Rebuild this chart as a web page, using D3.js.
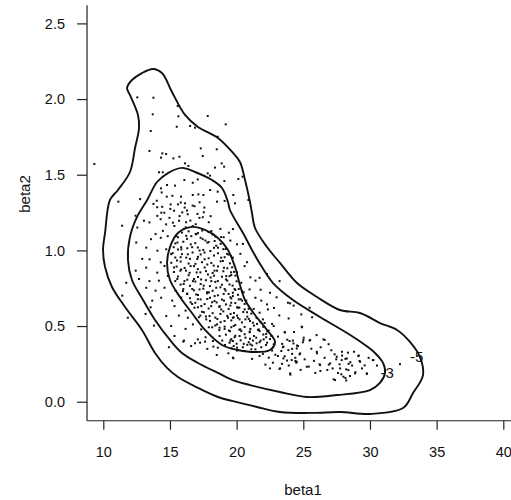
<!DOCTYPE html>
<html>
<head>
<meta charset="utf-8">
<script src="https://cdn.jsdelivr.net/npm/d3@7"></script>
<style>
  body { margin: 0; background: #fff; }
  text { font-family: "Liberation Sans", Arial, sans-serif; fill: #111; }
</style>
</head>
<body>
<div id="chart"></div>
<script>
var svgWidth = 511;
var svgHeight = 500;

var xTicks = [10, 15, 20, 25, 30, 35, 40];
var yTicks = [0, 0.5, 1.0, 1.5, 2.0, 2.5];
var xTitle = "beta1";
var yTitle = "beta2";

// contour levels, outer to inner: [beta1, beta2]
var contourOuter = [[13.73,2.199],[14.40,2.172],[15.15,2.047],[16.13,1.895],[17.10,1.816],[18.60,1.743],[19.73,1.644],[20.25,1.584],[20.63,1.465],[21.00,1.320],[21.15,1.247],[21.38,1.148],[22.28,1.022],[23.25,0.917],[24.53,0.784],[26.03,0.692],[27.75,0.606],[29.25,0.586],[30.75,0.520],[32.03,0.474],[33.00,0.395],[33.75,0.295],[33.98,0.176],[33.23,0.057],[32.48,-0.042],[30.00,-0.081],[27.75,-0.068],[25.73,-0.074],[23.25,-0.068],[21.53,-0.035],[19.65,0.005],[18.60,0.031],[17.10,0.091],[15.60,0.163],[14.78,0.223],[13.88,0.322],[12.90,0.474],[11.63,0.626],[10.65,0.758],[10.13,0.890],[9.98,1.003],[10.13,1.115],[10.50,1.333],[11.10,1.399],[12.00,1.518],[12.38,1.677],[12.68,1.809],[12.60,1.895],[12.00,2.027],[11.78,2.073],[12.15,2.126],[12.90,2.172]];
var contourMiddle = [[13.29,1.333],[14.03,1.452],[14.85,1.511],[15.90,1.545],[16.88,1.518],[18.15,1.465],[18.90,1.412],[19.35,1.320],[19.50,1.267],[20.48,1.115],[21.15,1.003],[21.90,0.890],[22.73,0.784],[24.23,0.672],[26.25,0.560],[28.28,0.454],[29.63,0.375],[30.38,0.322],[30.98,0.256],[31.13,0.190],[30.75,0.124],[30.00,0.077],[27.53,0.044],[25.28,0.031],[23.25,0.064],[21.00,0.110],[19.88,0.137],[18.60,0.190],[17.10,0.256],[15.90,0.322],[15.00,0.408],[13.88,0.540],[12.98,0.672],[12.15,0.804],[11.85,0.937],[12.00,1.089],[12.53,1.221]];
var contourInner = [[16.65,1.155],[17.63,1.135],[18.60,1.082],[19.35,1.003],[19.88,0.890],[20.25,0.771],[20.63,0.672],[21.38,0.573],[22.28,0.474],[22.88,0.395],[22.50,0.342],[21.38,0.328],[20.10,0.342],[18.90,0.375],[17.63,0.474],[16.65,0.586],[15.75,0.692],[15.00,0.804],[14.78,0.917],[15.00,1.022],[15.60,1.115]];

var contourLabels = ["-5", "-3"];
var labelPos = [[33.0, 0.264], [30.79, 0.157]];

// draws, read region by region
var drawsUpper = [[12.55,2.011],[13.76,2.009],[13.71,1.899],[15.58,1.954],[15.63,1.886],[17.83,1.888],[19.18,1.833],[15.51,1.817],[16.51,1.822],[16.88,1.811],[13.56,1.789],[18.58,1.751],[17.31,1.674],[18.51,1.668],[13.46,1.657],[14.43,1.641],[14.71,1.637],[14.33,1.613],[15.26,1.608],[15.71,1.619],[17.46,1.624],[16.13,1.575],[16.38,1.558],[18.88,1.575],[19.06,1.553],[18.38,1.547],[9.33,1.571],[14.18,1.516],[14.46,1.516],[17.83,1.509],[18.01,1.494],[19.08,1.458],[16.08,1.465],[16.71,1.447],[17.08,1.469],[14.78,1.432],[15.38,1.428],[14.33,1.410],[18.01,1.399],[18.58,1.388],[14.38,1.383],[14.76,1.355],[15.18,1.361],[15.83,1.355],[16.71,1.366],[17.13,1.370],[17.51,1.366],[12.76,1.339],[11.13,1.322],[14.01,1.328],[16.13,1.311],[18.53,1.322],[20.13,1.472],[20.45,1.487],[19.75,1.366],[19.88,1.311],[20.88,1.333]];
var drawsLeft = [[13.76,1.307],[14.42,1.288],[15.05,1.304],[15.81,1.316],[16.10,1.283],[16.70,1.296],[17.22,1.318],[15.31,1.262],[15.92,1.251],[14.58,1.249],[14.05,1.228],[16.33,1.239],[17.06,1.241],[17.58,1.283],[18.05,1.226],[19.10,1.327],[12.42,1.229],[13.05,1.196],[13.46,1.185],[14.30,1.206],[14.96,1.215],[15.68,1.196],[16.21,1.186],[16.93,1.173],[17.46,1.219],[16.18,1.152],[15.33,1.161],[14.71,1.172],[12.55,1.151],[11.41,1.163],[13.92,1.108],[14.47,1.129],[13.58,1.074],[14.31,1.083],[14.83,1.094],[15.56,1.052],[16.22,1.096],[16.93,1.109],[17.46,1.074],[18.18,1.106],[18.84,1.088],[19.42,1.117],[19.72,1.141],[15.84,1.021],[16.56,1.040],[17.09,1.019],[17.81,1.051],[18.47,1.031],[19.18,1.009],[13.22,1.018],[14.06,0.998],[14.72,1.007],[12.47,1.052],[12.92,0.944],[13.47,0.941],[14.31,0.921],[15.09,0.975],[15.80,0.955],[16.34,0.974],[17.05,0.943],[17.59,0.986],[18.30,0.966],[18.84,0.952],[19.58,0.963],[12.43,0.866],[13.22,0.886],[14.05,0.853],[14.59,0.897],[15.30,0.887],[15.84,0.874],[16.55,0.896],[17.09,0.876],[17.80,0.907],[18.34,0.866],[19.05,0.885],[19.58,0.855],[11.72,0.786],[12.68,0.811],[13.46,0.797],[14.17,0.800],[14.84,0.831],[15.55,0.811],[16.09,0.797],[16.80,0.811],[17.34,0.808],[18.05,0.821],[18.59,0.797],[19.30,0.800],[13.22,0.753],[13.92,0.734],[14.59,0.753],[15.42,0.733],[15.97,0.731],[16.67,0.745],[17.22,0.742],[17.92,0.723],[18.47,0.753],[19.17,0.734],[19.72,0.720],[13.67,0.668],[14.34,0.687],[15.17,0.668],[15.84,0.688],[16.55,0.657],[17.09,0.677],[17.80,0.679],[18.34,0.665],[19.05,0.668],[19.59,0.654],[11.42,0.701],[13.55,0.624],[15.34,0.632],[16.17,0.602],[16.84,0.621],[17.55,0.591],[18.09,0.632],[18.84,0.610],[19.55,0.580],[11.84,0.555],[13.17,0.580],[14.72,0.566],[15.67,0.569],[16.34,0.555],[17.17,0.558],[17.72,0.544],[18.55,0.547],[19.09,0.533],[19.72,0.555],[13.80,0.503],[15.09,0.500],[16.17,0.481],[16.72,0.511],[17.34,0.478],[18.17,0.492],[18.72,0.489],[19.42,0.470],[15.34,0.434],[16.05,0.404],[17.09,0.412],[17.67,0.426],[18.22,0.401],[18.92,0.404],[19.47,0.390],[14.92,0.360],[16.59,0.368],[17.80,0.349],[18.59,0.357]];
var drawsCore = [[14.04,1.285],[14.35,1.249],[15.03,1.274],[15.60,1.304],[16.28,1.263],[16.84,1.292],[17.54,1.252],[15.72,1.227],[16.53,1.197],[17.21,1.215],[17.91,1.186],[15.22,1.183],[16.03,1.142],[16.71,1.161],[17.42,1.131],[18.10,1.128],[18.78,1.142],[15.47,1.095],[16.28,1.076],[16.97,1.106],[17.66,1.065],[18.35,1.062],[19.03,1.087],[15.28,1.021],[15.85,1.007],[16.66,1.021],[17.22,0.999],[18.03,0.996],[18.60,1.018],[19.28,0.977],[15.53,0.933],[16.22,0.952],[16.91,0.911],[17.60,0.941],[18.28,0.899],[18.97,0.930],[19.66,0.888],[15.78,0.866],[16.47,0.852],[17.28,0.855],[17.85,0.841],[18.53,0.866],[19.22,0.830],[19.91,0.833],[16.03,0.778],[16.72,0.797],[17.53,0.767],[18.10,0.797],[18.78,0.756],[19.47,0.775],[20.16,0.745],[16.28,0.712],[16.97,0.709],[17.78,0.723],[18.35,0.698],[19.03,0.712],[19.72,0.698],[20.41,0.668],[16.66,0.646],[17.35,0.632],[18.16,0.657],[18.72,0.632],[19.53,0.635],[20.10,0.621],[20.78,0.591],[17.28,0.569],[17.97,0.566],[18.78,0.580],[19.35,0.555],[20.03,0.569],[20.66,0.544],[21.22,0.522],[17.91,0.492],[18.53,0.511],[19.10,0.481],[19.78,0.500],[20.35,0.467],[21.03,0.481],[21.72,0.467],[18.72,0.434],[19.53,0.404],[20.22,0.434],[20.91,0.393],[21.47,0.423],[22.22,0.426],[20.03,0.357],[21.10,0.346]];
var drawsInner = [[15.9,1.118],[16.4,1.126],[17.1,1.114],[17.9,1.121],[15.6,1.087],[16.6,1.094],[17.3,1.083],[18.4,1.092],[15.4,1.046],[16.0,1.057],[16.9,1.048],[17.9,1.055],[18.8,1.043],[15.6,1.006],[16.3,1.014],[17.5,1.003],[18.3,1.017],[19.0,1.008],[15.2,0.982],[15.9,0.975],[16.7,0.986],[17.3,0.973],[18.6,0.981],[19.4,0.972],[15.4,0.953],[16.5,0.944],[17.1,0.957],[17.9,0.948],[19.1,0.955],[15.1,0.918],[15.8,0.926],[16.4,0.913],[17.4,0.922],[18.1,0.917],[18.8,0.928],[19.5,0.914],[15.5,0.893],[16.1,0.884],[16.8,0.896],[17.6,0.887],[18.6,0.894],[19.3,0.882],[15.3,0.857],[16.2,0.866],[17.0,0.854],[17.7,0.863],[18.2,0.851],[19.0,0.862],[19.8,0.858],[15.6,0.827],[16.4,0.836],[17.1,0.824],[18.3,0.833],[18.9,0.826],[19.6,0.837],[15.4,0.797],[16.3,0.806],[16.9,0.794],[17.7,0.803],[18.4,0.792],[19.2,0.808],[20.0,0.796],[15.8,0.774],[16.5,0.766],[17.3,0.778],[18.0,0.764],[18.9,0.773],[19.7,0.767],[16.0,0.744],[16.8,0.736],[17.5,0.747],[18.2,0.733],[19.1,0.745],[19.9,0.738],[20.4,0.732],[16.3,0.714],[17.1,0.705],[17.8,0.716],[18.6,0.703],[19.4,0.712],[20.1,0.706],[16.5,0.684],[17.3,0.676],[18.0,0.687],[18.9,0.675],[19.6,0.683],[20.3,0.677],[16.9,0.654],[17.6,0.645],[18.5,0.656],[19.2,0.643],[19.9,0.652],[20.6,0.646],[17.1,0.624],[17.9,0.616],[18.7,0.626],[19.4,0.613],[20.2,0.622],[20.9,0.614],[17.4,0.594],[18.2,0.585],[19.0,0.597],[19.8,0.586],[20.5,0.593],[21.1,0.582],[17.7,0.563],[18.4,0.556],[19.3,0.567],[20.1,0.554],[20.8,0.562],[21.5,0.553],[18.0,0.534],[18.8,0.526],[19.6,0.537],[20.4,0.524],[21.0,0.533],[21.8,0.525],[18.4,0.504],[19.1,0.496],[19.9,0.507],[20.6,0.494],[21.3,0.503],[22.0,0.495],[18.7,0.473],[19.5,0.466],[20.2,0.476],[21.0,0.464],[21.6,0.474],[22.3,0.465],[19.2,0.443],[19.9,0.436],[20.6,0.446],[21.3,0.434],[22.0,0.444],[19.6,0.413],[20.3,0.406],[21.0,0.416],[21.8,0.404],[22.5,0.414],[20.0,0.383],[20.8,0.376],[21.5,0.386],[22.2,0.375]];
var drawsRight = [[19.53,1.065],[20.03,1.040],[20.47,1.043],[20.28,0.977],[19.72,0.952],[20.78,0.922],[20.60,0.896],[20.03,0.855],[19.47,0.830],[21.03,0.822],[20.35,0.786],[21.41,0.800],[21.72,0.819],[22.28,0.844],[23.22,0.797],[19.85,0.745],[20.53,0.723],[20.97,0.742],[19.53,0.690],[20.16,0.676],[20.72,0.668],[21.41,0.687],[21.85,0.668],[22.28,0.643],[20.03,0.624],[20.60,0.610],[21.28,0.613],[21.72,0.588],[22.35,0.610],[23.85,0.654],[24.28,0.635],[25.47,0.621],[25.66,0.558],[24.85,0.577],[19.78,0.558],[20.22,0.544],[20.91,0.547],[21.53,0.514],[21.97,0.544],[22.66,0.514],[19.60,0.492],[20.28,0.478],[20.97,0.459],[21.66,0.478],[22.22,0.448],[22.78,0.500],[23.60,0.459],[24.91,0.492],[19.85,0.426],[20.66,0.423],[21.22,0.404],[22.03,0.412],[22.60,0.434],[24.22,0.404],[25.03,0.423],[26.60,0.408],[25.47,0.404],[19.78,0.368],[20.47,0.360],[21.16,0.372],[21.85,0.360],[22.78,0.379],[23.47,0.360],[24.16,0.349],[24.60,0.368]];
var drawsTail = [[19.72,0.401],[20.53,0.382],[21.03,0.379],[21.72,0.393],[22.28,0.390],[22.72,0.360],[23.41,0.382],[23.97,0.401],[24.53,0.371],[24.97,0.393],[20.03,0.338],[20.60,0.335],[21.41,0.346],[21.97,0.316],[22.66,0.338],[23.35,0.335],[24.16,0.316],[24.72,0.313],[26.03,0.320],[19.72,0.291],[21.16,0.283],[21.72,0.302],[22.41,0.291],[23.10,0.302],[23.78,0.272],[24.41,0.269],[22.16,0.245],[22.72,0.258],[23.22,0.217],[23.91,0.239],[24.47,0.258],[25.41,0.232],[26.22,0.247],[26.91,0.245],[26.28,0.203],[24.03,0.179],[27.35,0.313],[27.91,0.305],[28.35,0.324],[29.16,0.305],[27.47,0.280],[28.16,0.283],[28.53,0.261],[27.72,0.247],[28.66,0.239],[29.22,0.269],[28.22,0.214],[28.91,0.195],[29.78,0.184],[27.85,0.181],[28.16,0.157],[28.22,0.140],[27.28,0.148],[30.22,0.275],[30.53,0.239],[32.25,0.248],[24.01,0.650],[24.88,0.496],[23.63,0.458],[25.51,0.408],[25.01,0.408],[26.51,0.412],[24.26,0.385],[23.51,0.364],[24.51,0.352],[23.88,0.341],[26.01,0.330],[24.76,0.319],[24.13,0.275],[23.51,0.286],[24.51,0.264],[25.26,0.231],[26.26,0.242],[27.01,0.253],[27.51,0.297],[27.88,0.275],[28.26,0.286],[29.13,0.302],[29.26,0.264],[29.76,0.187],[30.26,0.275],[27.76,0.220],[28.38,0.209],[28.01,0.165],[27.38,0.143],[28.88,0.187],[24.01,0.187],[23.26,0.220],[16.00,0.397],[16.88,0.386],[17.26,0.390],[17.63,0.397],[18.26,0.364],[18.51,0.309],[19.38,0.320],[19.76,0.287],[19.13,0.375],[19.63,0.353]];
var drawsTail2 = [[22.4,0.47],[23.1,0.43],[23.8,0.41],[22.9,0.31],[23.6,0.30],[24.4,0.29],[25.1,0.28],[25.8,0.27],[26.6,0.29],[25.6,0.35],[26.3,0.36],[27.1,0.34],[22.5,0.22],[23.4,0.25],[24.8,0.21],[25.9,0.19],[26.8,0.21],[27.6,0.19],[28.5,0.17],[29.4,0.22],[29.9,0.29],[28.8,0.33],[27.9,0.33],[26.9,0.38],[28.4,0.25],[29.6,0.24],[27.2,0.22],[26.0,0.44],[24.3,0.46],[23.9,0.55],[23.2,0.57],[22.8,0.62],[23.0,0.69],[22.5,0.72],[21.8,0.74],[22.1,0.52]];

var draws = drawsUpper.concat(drawsLeft, drawsCore, drawsInner, drawsRight, drawsTail, drawsTail2);

var svg = d3
  .select("#chart")
  .append("svg")
  .attr("width", svgWidth)
  .attr("height", svgHeight);

var xScale = d3.scaleLinear().domain([10, 40]).range([103.3, 503.3]);
var yScale = d3.scaleLinear().domain([0, 2.5]).range([401.7, 23.4]);

// L-shaped frame
var xLeft = 8.78, yBottom = -0.126, yTop = 2.62;
svg.append("line")
  .attr("x1", xScale(xLeft)).attr("x2", xScale(xLeft))
  .attr("y1", yScale(yTop)).attr("y2", yScale(yBottom))
  .attr("stroke", "#222").attr("stroke-width", 1.2);
svg.append("line")
  .attr("x1", xScale(xLeft)).attr("x2", svgWidth)
  .attr("y1", yScale(yBottom)).attr("y2", yScale(yBottom))
  .attr("stroke", "#222").attr("stroke-width", 1.2);

var leftAxis = d3.axisLeft(yScale)
  .tickValues(yTicks)
  .tickFormat(d3.format(".1f"))
  .tickSize(10)
  .tickPadding(12);
var bottomAxis = d3.axisBottom(xScale)
  .tickValues(xTicks)
  .tickSize(9)
  .tickPadding(17);

var gy = svg.append("g")
  .attr("transform", `translate(${xScale(xLeft)},0)`)
  .call(leftAxis);
var gx = svg.append("g")
  .attr("transform", `translate(0,${yScale(yBottom)})`)
  .call(bottomAxis);
[gx, gy].forEach(function (g) {
  g.select(".domain").remove();
  g.selectAll("line").attr("stroke", "#222").attr("stroke-width", 1.2);
  g.selectAll("text").style("font-size", "14.5px").attr("fill", "#111");
});

svg.append("text")
  .text(xTitle)
  .attr("x", 303)
  .attr("y", 495)
  .style("text-anchor", "middle")
  .style("font-size", "15px");
svg.append("text")
  .text(yTitle)
  .style("text-anchor", "middle")
  .style("font-size", "15px")
  .attr("transform", "translate(30,194) rotate(-90)");

// points
svg.append("g")
  .selectAll("rect")
  .data(draws)
  .enter()
  .append("rect")
  .attr("x", (d) => xScale(d[0]) - 1)
  .attr("y", (d) => yScale(d[1]) - 1)
  .attr("width", 2)
  .attr("height", 2)
  .attr("fill", "#111");

// contours
var contourLine = d3.line()
  .x((d) => xScale(d[0]))
  .y((d) => yScale(d[1]))
  .curve(d3.curveCatmullRomClosed.alpha(0.5));

svg.append("g")
  .selectAll("path")
  .data([contourOuter, contourMiddle, contourInner])
  .enter()
  .append("path")
  .attr("d", contourLine)
  .attr("fill", "none")
  .attr("stroke", "#111")
  .attr("stroke-width", 1.9)
  .attr("stroke-linejoin", "round");

svg.append("g")
  .selectAll("text")
  .data(contourLabels)
  .enter()
  .append("text")
  .text((d) => d)
  .attr("x", (d, i) => xScale(labelPos[i][0]))
  .attr("y", (d, i) => yScale(labelPos[i][1]))
  .style("font-size", "15px");
</script>
</body>
</html>
